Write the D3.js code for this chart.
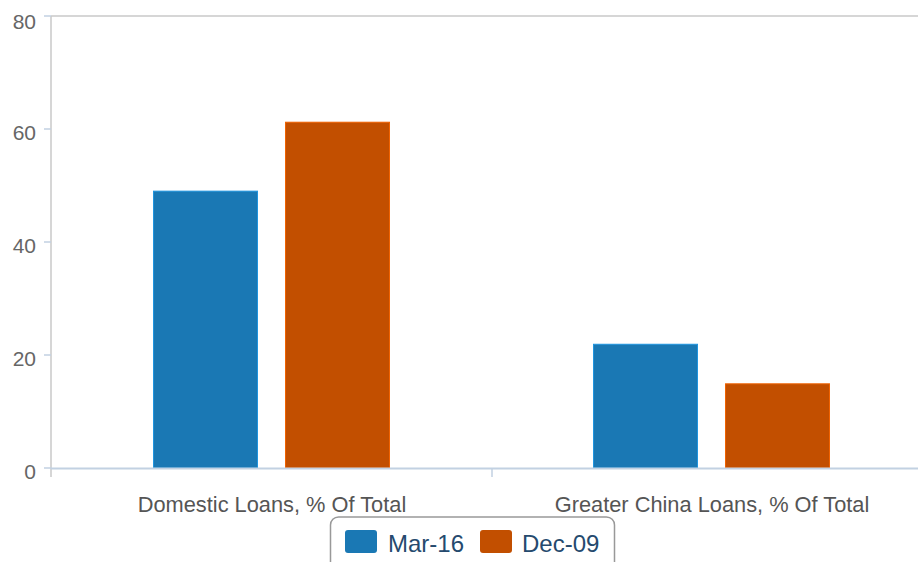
<!DOCTYPE html>
<html>
<head>
<meta charset="utf-8">
<script src="https://cdn.jsdelivr.net/npm/d3@7/dist/d3.min.js"></script>
<style>
  body { margin: 0; background: #fff; }
  svg { font-family: "Liberation Sans", Arial, sans-serif; display: block; }
</style>
</head>
<body>
<svg id="chart"></svg>
<script>
var width = 918;
var height = 562;

var categories = ["Domestic Loans, % Of Total", "Greater China Loans, % Of Total"];
var seriesNames = ["Mar-16", "Dec-09"];
var seriesColors = ["#1a78b4", "#c24f00"];
var mar16 = [49.0, 21.9];
var dec09 = [61.2, 14.9];
var yTicks = [0, 20, 40, 60, 80];

var data = categories.map(function(c, i) {
  return { cat: c, values: [mar16[i], dec09[i]] };
});

var svg = d3.select("#chart").attr("width", width).attr("height", height);

var plotLeft = 52, plotRight = 932, plotTop = 16, plotBottom = 468;

var x = d3.scaleBand().domain(categories).range([plotLeft, plotRight]);
var y = d3.scaleLinear().domain([0, 80]).range([plotBottom, plotTop]);
var barW = 104, gap = 28;
var inner = d3.scaleBand().domain(seriesNames).range([0, barW * 2 + gap]).paddingInner(gap / (barW + gap));

// top frame line
svg.append("line")
  .attr("x1", plotLeft - 1).attr("x2", width)
  .attr("y1", plotTop).attr("y2", plotTop)
  .attr("stroke", "#c8c8c8").attr("stroke-width", 1.5);

// left axis line
svg.append("line")
  .attr("x1", plotLeft - 1).attr("x2", plotLeft - 1)
  .attr("y1", plotTop).attr("y2", plotBottom + 9)
  .attr("stroke", "#c8c8c8").attr("stroke-width", 1.5);

// y ticks and labels
var yAxis = svg.append("g");
yTicks.forEach(function(t) {
  yAxis.append("line")
    .attr("x1", plotLeft - 8).attr("x2", plotLeft - 1)
    .attr("y1", y(t)).attr("y2", y(t))
    .attr("stroke", "#c2d1e2").attr("stroke-width", 1.5);
  yAxis.append("text")
    .attr("x", 36).attr("y", y(t) + (t === 80 ? 13 : 11))
    .attr("text-anchor", "end")
    .attr("font-size", "21px")
    .attr("fill", "#666")
    .text(t);
});

// bars
var groups = svg.append("g").selectAll("g")
  .data(data).enter().append("g")
  .attr("transform", function(d) {
    return "translate(" + (x(d.cat) + x.bandwidth() / 2 - (barW * 2 + gap) / 2 - 0.5) + ",0)";
  });

groups.selectAll("rect")
  .data(function(d) { return d.values.map(function(v, i) { return { s: seriesNames[i], v: v, c: seriesColors[i] }; }); })
  .enter().append("rect")
  .attr("x", function(d) { return inner(d.s); })
  .attr("width", inner.bandwidth())
  .attr("y", function(d) { return y(d.v); })
  .attr("height", function(d) { return plotBottom - y(d.v); })
  .attr("fill", function(d) { return d.c; })
  .attr("stroke", function(d) { return d3.color(d.c).brighter(0.6); })
  .attr("stroke-width", 1);

// x axis line
svg.append("line")
  .attr("x1", plotLeft - 1).attr("x2", width)
  .attr("y1", plotBottom + 0.5).attr("y2", plotBottom + 0.5)
  .attr("stroke", "#c2d1e2").attr("stroke-width", 2);

// category divider tick
svg.append("line")
  .attr("x1", x(categories[1])).attr("x2", x(categories[1]))
  .attr("y1", plotBottom).attr("y2", plotBottom + 9)
  .attr("stroke", "#c2d1e2").attr("stroke-width", 1.5);

// x labels
svg.append("g").selectAll("text")
  .data(categories).enter().append("text")
  .attr("x", function(d) { return x(d) + x.bandwidth() / 2; })
  .attr("y", 512)
  .attr("text-anchor", "middle")
  .attr("font-size", "21.8px")
  .attr("fill", "#555")
  .text(function(d) { return d; });

// legend
var legend = svg.append("g");
legend.append("rect")
  .attr("x", 330.5).attr("y", 517)
  .attr("width", 284).attr("height", 60)
  .attr("rx", 8)
  .attr("fill", "#fff")
  .attr("stroke", "#999").attr("stroke-width", 1.5);

var legendX = [345, 480];
var legendTextX = [388, 522];
seriesNames.forEach(function(s, i) {
  legend.append("rect")
    .attr("x", legendX[i]).attr("y", 530)
    .attr("width", 32).attr("height", 23)
    .attr("rx", 3)
    .attr("fill", seriesColors[i]);
  legend.append("text")
    .attr("x", legendTextX[i]).attr("y", 552)
    .attr("font-size", "24px")
    .attr("fill", "#254a6e")
    .text(s);
});
</script>
</body>
</html>
